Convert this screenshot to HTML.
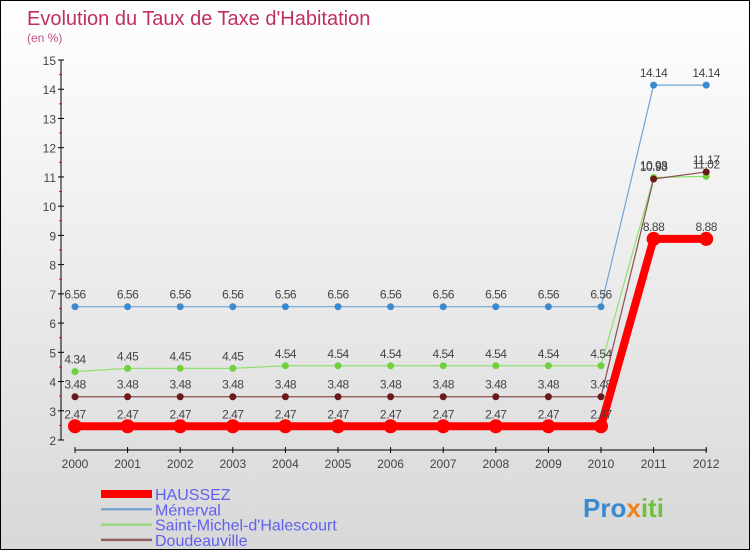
<!DOCTYPE html>
<html><head><meta charset="utf-8"><style>
body{margin:0}
#c{position:relative;width:750px;height:550px;box-sizing:border-box;border:1px solid #000;background:linear-gradient(#fff,#d8d8d8);font-family:"Liberation Sans",sans-serif;overflow:hidden}
</style></head><body>
<div id="c">
<svg id="s" width="748" height="548" style="position:absolute;left:0;top:0"></svg>
</div>
<script>
const years=["2000","2001","2002","2003","2004","2005","2006","2007","2008","2009","2010","2011","2012"];
const haussez=[2.47,2.47,2.47,2.47,2.47,2.47,2.47,2.47,2.47,2.47,2.47,8.88,8.88];
const menerval=[6.56,6.56,6.56,6.56,6.56,6.56,6.56,6.56,6.56,6.56,6.56,14.14,14.14];
const saintMichel=[4.34,4.45,4.45,4.45,4.54,4.54,4.54,4.54,4.54,4.54,4.54,10.98,11.02];
const doudeauville=[3.48,3.48,3.48,3.48,3.48,3.48,3.48,3.48,3.48,3.48,3.48,10.93,11.17];
const yTicks=[2,3,4,5,6,7,8,9,10,11,12,13,14,15];
const s=document.getElementById('s');const NS='http://www.w3.org/2000/svg';
function el(t,a,txt){const e=document.createElementNS(NS,t);for(const k in a)e.setAttribute(k,a[k]);if(txt!==undefined)e.textContent=txt;s.appendChild(e);return e;}
const X=i=>74+i*52.6, Y=v=>439-(v-2)*29.23;
let e;
e=el('text',{x:26,y:24,'font-size':20,fill:'#c0305e'},"Evolution du Taux de Taxe d'Habitation");

e=el('text',{x:26,y:41,'font-size':12,fill:'#c0508e'},"(en %)");

e=el('line',{x1:60,y1:59,x2:60,y2:439,stroke:'#000'});

e=el('line',{x1:74,y1:449,x2:706,y2:449,stroke:'#000'});

yTicks.forEach(v=>{const y=Y(v);
 e=el('line',{x1:57,y1:y,x2:63,y2:y,stroke:'#000'});
 e=el('text',{x:55,y:y+5,'font-size':12,fill:'#444','text-anchor':'end'},v);
 if(v<15){e=el('line',{x1:58,y1:y-14.6,x2:61,y2:y-14.6,stroke:'#f00'});}
});
years.forEach((yr,i)=>{
 e=el('line',{x1:X(i),y1:446,x2:X(i),y2:452,stroke:'#000'});
 e=el('text',{x:X(i),y:467,'font-size':12,fill:'#444','text-anchor':'middle'},yr);
});
function series(d,col,w,r,name,dot){
 e=el('polyline',{points:d.map((v,i)=>X(i)+','+Y(v)).join(' '),fill:'none',stroke:col,'stroke-width':w});
 
 d.forEach((v,i)=>{
  e=el('circle',{cx:X(i),cy:Y(v),r:r,fill:dot});
  e=el('text',{x:X(i),y:Y(v)-8,'font-size':12,fill:'#444','text-anchor':'middle','letter-spacing':'-0.5'},v);
 });
}
series(menerval,'#6ea6d8',1.2,3.5,'menerval','#3a8ad0');
series(saintMichel,'#90e070',1.2,3.5,'saint-michel','#70d040');
series(doudeauville,'#8a5050',1.2,3.5,'doudeauville','#6a1a1a');
series(haussez,'#f00',8,7,'haussez','#f00');
const leg=[['HAUSSEZ','#f00',8],['Ménerval','#7aa8d0',2.5],["Saint-Michel-d'Halescourt",'#98d880',2.5],['Doudeauville','#906060',2.5]];
leg.forEach((l,i)=>{const y=493+i*15.3;
 e=el('line',{x1:100,y1:y,x2:151,y2:y,stroke:l[1],'stroke-width':l[2]});
 e=el('text',{x:154,y:y+6,'font-size':16,fill:'#6060f0'},l[0]);
});
e=el('text',{x:582,y:516,'font-size':26,'font-weight':'bold',fill:'#3a8ad0'},'');

[['Pro','#3a8ad0'],['x','#f08020'],['iti','#70c040']].forEach(p=>{const t=document.createElementNS(NS,'tspan');t.setAttribute('fill',p[1]);t.textContent=p[0];e.appendChild(t);});
</script>
</body></html>
